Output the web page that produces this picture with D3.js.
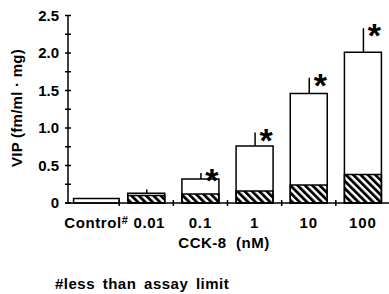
<!DOCTYPE html>
<head>
<style>
body { margin: 0; background: #fff; }
text { font-family: "Liberation Sans", Arial, sans-serif; font-weight: bold; fill: #000; }
.bar { stroke: #000; stroke-width: 1.5px; }
.axisline { stroke: #000; stroke-width: 1.5px; }
</style>
<script src="https://d3js.org/d3.v7.min.js"></script>
</head>
<body>
<svg width="389" height="294"></svg>
<script>
var categories = ["Control", "0.01", "0.1", "1", "10", "100"];
var totalVIP = [0.06, 0.13, 0.32, 0.76, 1.46, 2.01];
var basalVIP = [0, 0.10, 0.12, 0.16, 0.24, 0.38];
var semVIP = [0, 0.05, 0.08, 0.18, 0.21, 0.32];
var significant = [false, false, true, true, true, true];
var yTicks = [0, 0.5, 1.0, 1.5, 2.0, 2.5];
var yTickLabels = ["0", "0.5", "1.0", "1.5", "2.0", "2.5"];

var svg = d3.select("svg");

var defs = svg.append("defs");
defs.append("pattern")
    .attr("id", "hatch")
    .attr("patternUnits", "userSpaceOnUse")
    .attr("width", 5.2)
    .attr("height", 5.2)
    .attr("patternTransform", "rotate(-45)")
  .append("rect")
    .attr("x", 0).attr("y", 0)
    .attr("width", 2.8).attr("height", 5.2)
    .attr("fill", "#000");

var x = d3.scaleBand()
    .domain(categories)
    .range([65, 390])
    .paddingInner(0.317)
    .paddingOuter(0.1585);

var y = d3.scaleLinear()
    .domain([0, 2.5])
    .range([203, 15.5]);

var data = categories.map(function(c, i) {
  return {cat: c, total: totalVIP[i], basal: basalVIP[i], sem: semVIP[i], sig: significant[i], i: i};
});

function barWidth(d) {
  // the control column is drawn a little wider, up to the first divider
  return d.i === 0 ? x.bandwidth() + x.step() * x.paddingInner() / 2 : x.bandwidth();
}

// error bars (drawn first so the bar outline sits on top)
svg.append("g").selectAll("line")
  .data(data.filter(function(d) { return d.sem > 0; }))
  .enter().append("line")
    .attr("class", "axisline")
    .attr("x1", function(d) { return x(d.cat) + barWidth(d) / 2 + 0.5; })
    .attr("x2", function(d) { return x(d.cat) + barWidth(d) / 2 + 0.5; })
    .attr("y1", function(d) { return y(d.total); })
    .attr("y2", function(d) { return y(d.total + d.sem); });

// total bars (white)
svg.append("g").selectAll("rect")
  .data(data)
  .enter().append("rect")
    .attr("class", "bar")
    .attr("fill", "#fff")
    .attr("x", function(d) { return x(d.cat); })
    .attr("y", function(d) { return y(d.total); })
    .attr("width", barWidth)
    .attr("height", function(d) { return y(0) - y(d.total); });

// basal part (hatched)
svg.append("g").selectAll("rect")
  .data(data.filter(function(d) { return d.basal > 0; }))
  .enter().append("rect")
    .attr("class", "bar")
    .attr("fill", "url(#hatch)")
    .attr("x", function(d) { return x(d.cat); })
    .attr("y", function(d) { return y(d.basal); })
    .attr("width", barWidth)
    .attr("height", function(d) { return y(0) - y(d.basal); });

// significance stars
svg.append("g").selectAll("text")
  .data(data.filter(function(d) { return d.sig; }))
  .enter().append("text")
    .attr("x", function(d) { return x(d.cat) + barWidth(d) / 2 + 11.5; })
    .attr("y", function(d) { return y(d.total + d.sem) + 19; })
    .attr("text-anchor", "middle")
    .attr("font-size", 34)
    .text("*");

// y axis
var yAxis = svg.append("g");
yAxis.append("line")
    .attr("class", "axisline")
    .attr("x1", 68).attr("x2", 68)
    .attr("y1", y(2.5)).attr("y2", y(0) + 1);
yAxis.selectAll("line.tick")
  .data(d3.range(0, 2.51, 0.25))
  .enter().append("line")
    .attr("class", "axisline tick")
    .attr("x1", 65).attr("x2", 71)
    .attr("y1", function(d) { return y(d); })
    .attr("y2", function(d) { return y(d); });
yAxis.selectAll("text")
  .data(yTicks)
  .enter().append("text")
    .attr("x", 59)
    .attr("y", function(d) { return y(d); })
    .attr("dy", "0.36em")
    .attr("text-anchor", "end")
    .attr("font-size", 15)
    .text(function(d, i) { return yTickLabels[i]; });

svg.append("text")
    .attr("transform", "translate(21.5,108) rotate(-90)")
    .attr("text-anchor", "middle")
    .attr("font-size", 15)
    .attr("letter-spacing", 0.25)
    .text("VIP (fm/ml \u00b7 mg)");

// x axis
var xAxis = svg.append("g");
xAxis.append("line")
    .attr("class", "axisline")
    .attr("x1", 65).attr("x2", 389)
    .attr("y1", y(0)).attr("y2", y(0));
xAxis.selectAll("line.tick")
  .data(categories.slice(1))
  .enter().append("line")
    .attr("class", "axisline tick")
    .attr("x1", function(c) { return x(c) - x.step() * x.paddingInner() / 2; })
    .attr("x2", function(c) { return x(c) - x.step() * x.paddingInner() / 2; })
    .attr("y1", y(0) - 3).attr("y2", y(0) + 3);

var labels = xAxis.selectAll("text")
  .data(data)
  .enter().append("text")
    .attr("x", function(d) { return x(d.cat) + barWidth(d) / 2 + (d.i === 1 ? 3 : 0); })
    .attr("y", 228)
    .attr("text-anchor", "middle")
    .attr("font-size", 15)
    .attr("letter-spacing", function(d) { return d.i < 2 ? 0.6 : 0.9; })
    .text(function(d) { return d.cat; });
labels.filter(function(d) { return d.i === 0; })
  .append("tspan")
    .attr("font-size", 11)
    .attr("dy", -4)
    .text("#");

svg.append("text")
    .attr("x", 224)
    .attr("y", 248)
    .attr("text-anchor", "middle")
    .attr("font-size", 15)
    .attr("letter-spacing", 0.5)
    .attr("xml:space", "preserve")
    .text("CCK-8  (nM)");

svg.append("text")
    .attr("x", 55)
    .attr("y", 289)
    .attr("font-size", 15)
    .attr("letter-spacing", 0.5)
    .attr("word-spacing", 3)
    .text("#less than assay limit");
</script>
</body>
